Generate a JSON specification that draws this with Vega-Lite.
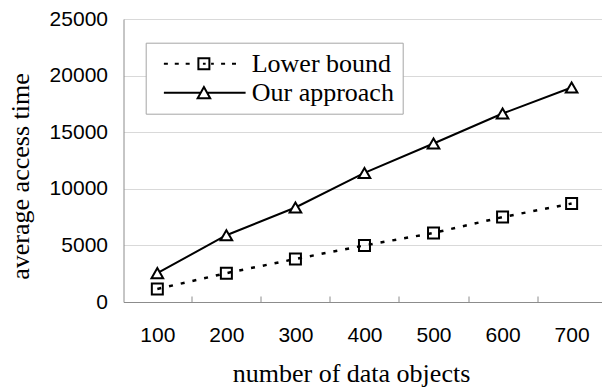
{
  "$schema": "https://vega.github.io/schema/vega-lite/v6.json",
  "width": 478.5,
  "height": 283,
  "autosize": {"type": "none"},
  "padding": {"left": 123.5, "top": 19, "right": 0, "bottom": 85},
  "background": "white",
  "config": {
    "view": {"stroke": null},
    "legend": {
      "orient": "none",
      "legendX": 22.2,
      "legendY": 23.7,
      "title": null,
      "padding": 8,
      "fillColor": "white",
      "strokeColor": "#a6a6a6",
      "cornerRadius": 0,
      "labelFont": "Liberation Serif",
      "labelFontSize": 26,
      "labelColor": "black",
      "labelOffset": 5,
      "labelLimit": 400,
      "rowPadding": 3,
      "clipHeight": 26,
      "symbolSize": 8245,
      "symbolStrokeWidth": 2,
      "symbolStrokeColor": "black",
      "symbolFillColor": "white",
      "symbolOpacity": 1
    }
  },
  "data": {
    "values": [
      {"objects": 100, "series": "Lower bound", "time": 1150},
      {"objects": 200, "series": "Lower bound", "time": 2550},
      {"objects": 300, "series": "Lower bound", "time": 3800},
      {"objects": 400, "series": "Lower bound", "time": 5000},
      {"objects": 500, "series": "Lower bound", "time": 6100},
      {"objects": 600, "series": "Lower bound", "time": 7500},
      {"objects": 700, "series": "Lower bound", "time": 8700},
      {"objects": 100, "series": "Our approach", "time": 2550},
      {"objects": 200, "series": "Our approach", "time": 5900},
      {"objects": 300, "series": "Our approach", "time": 8350},
      {"objects": 400, "series": "Our approach", "time": 11400},
      {"objects": 500, "series": "Our approach", "time": 14000},
      {"objects": 600, "series": "Our approach", "time": 16650},
      {"objects": 700, "series": "Our approach", "time": 18950}
    ]
  },
  "encoding": {
    "x": {
      "field": "objects",
      "type": "quantitative",
      "scale": {"domain": [51, 744], "nice": false, "zero": false},
      "axis": {
        "values": [100, 200, 300, 400, 500, 600, 700],
        "grid": false,
        "tickSize": -6,
        "tickOffset": 34.5,
        "labelOffset": -34.5,
        "tickColor": "#8c8c8c",
        "domainColor": "#8c8c8c",
        "labelFlush": false,
        "labelFont": "Liberation Sans",
        "labelFontSize": 21,
        "labelColor": "black",
        "labelPadding": 28,
        "title": "number of data objects",
        "titleFont": "Liberation Serif",
        "titleFontSize": 26,
        "titleFontWeight": "normal",
        "titleColor": "black",
        "titleX": 227.5,
        "titleY": 79,
        "titleBaseline": "alphabetic"
      }
    },
    "y": {
      "field": "time",
      "type": "quantitative",
      "scale": {"domain": [0, 25000], "nice": false},
      "axis": {
        "values": [0, 5000, 10000, 15000, 20000, 25000],
        "ticks": false,
        "grid": true,
        "gridColor": "#d9d9d9",
        "gridWidth": 1.2,
        "domainColor": "#8c8c8c",
        "labelFont": "Liberation Sans",
        "labelFontSize": 21,
        "labelColor": "black",
        "labelPadding": 16,
        "format": "d",
        "title": "average access time",
        "titleFont": "Liberation Serif",
        "titleFontSize": 26,
        "titleFontWeight": "normal",
        "titleColor": "black",
        "titleX": -95,
        "titleY": 157,
        "titleBaseline": "alphabetic"
      }
    }
  },
  "layer": [
    {
      "transform": [{"filter": {"field": "series", "equal": "Lower bound"}}],
      "mark": {"type": "line", "color": "black", "strokeWidth": 2.5, "strokeDash": [4, 8]}
    },
    {
      "transform": [{"filter": {"field": "series", "equal": "Our approach"}}],
      "mark": {"type": "line", "color": "black", "strokeWidth": 2}
    },
    {
      "transform": [{"filter": {"field": "series", "equal": "Lower bound"}}],
      "mark": {"type": "point", "shape": "square", "size": 121, "filled": false, "stroke": "black", "strokeWidth": 2, "opacity": 1}
    },
    {
      "transform": [{"filter": {"field": "series", "equal": "Our approach"}}],
      "mark": {"type": "point", "shape": "triangle-up", "size": 135, "filled": true, "fill": "white", "stroke": "black", "strokeWidth": 2, "opacity": 1}
    },
    {
      "mark": {"type": "point", "filled": false, "color": "black", "strokeWidth": 2, "opacity": 0},
      "encoding": {
        "shape": {
          "field": "series",
          "type": "nominal",
          "scale": {
            "domain": ["Lower bound", "Our approach"],
            "range": [
              "M-0.8,0L-0.712,0M-0.56,0L-0.472,0M-0.32,0L-0.232,0M-0.04,-0.121L0.202,-0.121L0.202,0.121L-0.04,0.121ZM0.06,0L0.12,0M0.24,0L0.3,0M0.46,0L0.548,0M0.7,0L0.788,0",
              "M-0.8,0L0.012,0M0.152,0L1,0M0.082,-0.127L0.22,0.121L-0.056,0.121Z"
            ]
          },
          "legend": {"symbolOpacity": 1}
        }
      }
    }
  ]
}
